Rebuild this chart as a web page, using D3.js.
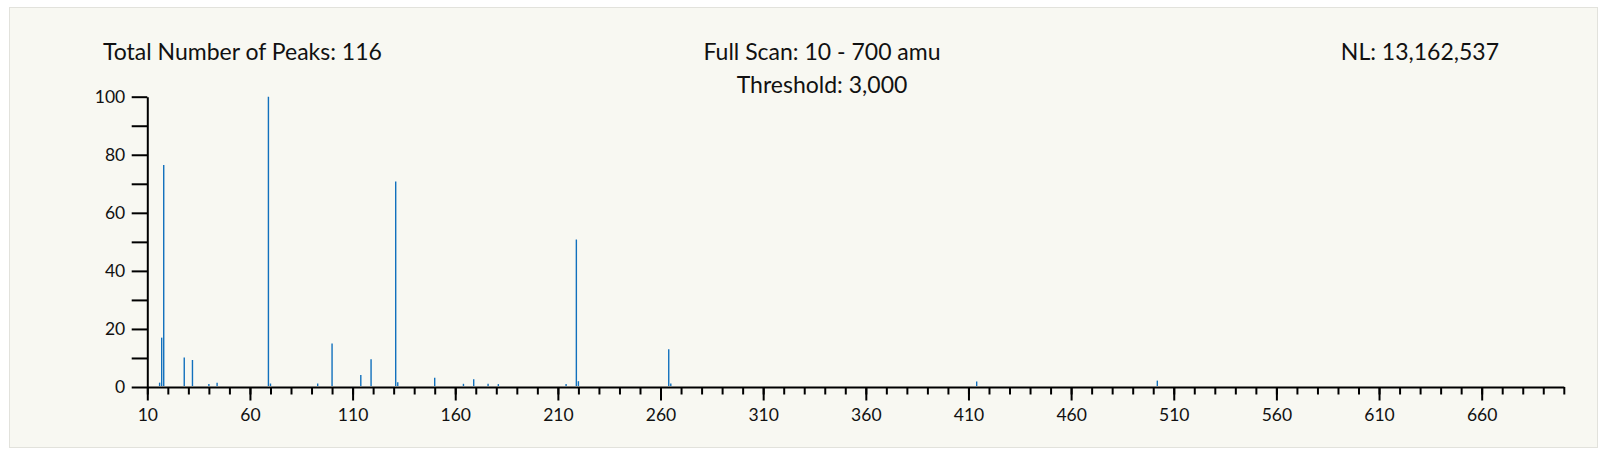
<!DOCTYPE html>
<html>
<head>
<meta charset="utf-8">
<script src="https://cdn.jsdelivr.net/npm/d3@7"></script>
<style>
  body { margin: 0; background: #ffffff; }
  svg { display: block; font-family: Lato, "Open Sans", sans-serif; }
</style>
</head>
<body>
<div id="my_spectrum"></div>
<script>
// peak list: m/z and relative abundance (% of base peak)
const peak_mz = [16, 17, 18, 28, 32, 40, 44, 69, 70, 93, 100, 114, 119, 131, 132,
                 150, 164, 169, 176, 181, 214, 219, 220, 264, 265, 414, 502];
const peak_abund = [1.5, 17, 76.5, 10.2, 9.3, 1.0, 1.5, 100, 1.2, 1.2, 15, 4.1, 9.6, 70.8, 1.6,
                    3.2, 1.1, 2.7, 1.1, 1.0, 1.0, 50.8, 2.0, 13.0, 1.2, 1.9, 2.2];

const x_domain = [10, 700];
const x_major_ticks = [10, 60, 110, 160, 210, 260, 310, 360, 410, 460, 510, 560, 610, 660];
const y_major_ticks = [0, 20, 40, 60, 80, 100];

const header_left = "Total Number of Peaks: 116";
const header_mid = ["Full Scan: 10 - 700 amu", "Threshold: 3,000"];
const header_right = "NL: 13,162,537";

const W = 1607, H = 457;
const plot = {left: 147.3, right: 1563.8, top: 96.7, bottom: 387};

const svg = d3.select("#my_spectrum")
    .append("svg")
    .attr("width", W)
    .attr("height", H);

// background panel
svg.append("rect")
    .attr("x", 9.5).attr("y", 7.5)
    .attr("width", 1588).attr("height", 440)
    .attr("fill", "#f8f8f2")
    .attr("stroke", "#e2e2dc")
    .attr("stroke-width", 1);

const xScale = d3.scaleLinear().domain(x_domain).range([plot.left, plot.right]);
const yScale = d3.scaleLinear().domain([0, 100]).range([plot.bottom, plot.top]);

// minor ticks every 10 amu
const x_minor = d3.range(x_domain[0], x_domain[1] + 1, 10);
svg.append("g")
    .attr("class", "xMinor")
    .attr("transform", `translate(0, ${plot.bottom})`)
    .call(d3.axisBottom(xScale).tickValues(x_minor).tickSize(7.5).tickSizeOuter(0).tickFormat(""))
    .call(g => g.select(".domain").attr("stroke", "#000").attr("stroke-width", 2))
    .call(g => g.selectAll(".tick line").attr("stroke", "#000").attr("stroke-width", 2));

// major labelled ticks
svg.append("g")
    .attr("class", "xAxis")
    .attr("transform", `translate(0, ${plot.bottom})`)
    .call(d3.axisBottom(xScale).tickValues(x_major_ticks).tickSize(13.5).tickFormat(d3.format("d")))
    .call(g => g.select(".domain").remove())
    .call(g => g.selectAll(".tick line").attr("stroke", "#000").attr("stroke-width", 2))
    .call(g => g.selectAll(".tick text")
        .attr("y", 33.7).attr("dy", null)
        .attr("fill", "#111")
        .style("font-size", "17.5px")
        .style("font-family", "Lato, 'Open Sans', sans-serif"));

// y axis, ticks every 10, labels every 20
svg.append("g")
    .attr("class", "yAxis")
    .attr("transform", `translate(${plot.left}, 0)`)
    .call(d3.axisLeft(yScale).tickValues(d3.range(0, 101, 10)).tickSize(15.6).tickSizeOuter(0)
        .tickPadding(6.5)
        .tickFormat(d => y_major_ticks.includes(d) ? d : ""))
    .call(g => g.select(".domain").attr("stroke", "#000").attr("stroke-width", 2))
    .call(g => g.selectAll(".tick line").attr("stroke", "#000").attr("stroke-width", 2))
    .call(g => g.selectAll(".tick text")
        .attr("fill", "#111")
        .style("font-size", "17.5px")
        .style("font-family", "Lato, 'Open Sans', sans-serif"));

// peaks as thin sticks
const peaks = peak_mz.map((m, i) => ({mz: m, ab: peak_abund[i]}));
svg.append("g")
    .selectAll("line")
    .data(peaks)
    .join("line")
    .attr("x1", d => xScale(d.mz))
    .attr("x2", d => xScale(d.mz))
    .attr("y1", yScale(0) - 1)
    .attr("y2", d => yScale(d.ab))
    .attr("stroke", "#1170bd")
    .attr("stroke-width", 1.4);

// header texts
svg.append("text")
    .attr("x", 103).attr("y", 60)
    .attr("fill", "#111")
    .style("font-size", "23px")
    .text(header_left);

svg.selectAll(".midHead")
    .data(header_mid)
    .join("text")
    .attr("class", "midHead")
    .attr("text-anchor", "middle")
    .attr("x", 822)
    .attr("y", (d, i) => 60 + i * 33.3)
    .attr("fill", "#111")
    .style("font-size", "23px")
    .text(d => d);

svg.append("text")
    .attr("text-anchor", "end")
    .attr("x", 1499).attr("y", 60)
    .attr("fill", "#111")
    .style("font-size", "23px")
    .text(header_right);
</script>
</body>
</html>
